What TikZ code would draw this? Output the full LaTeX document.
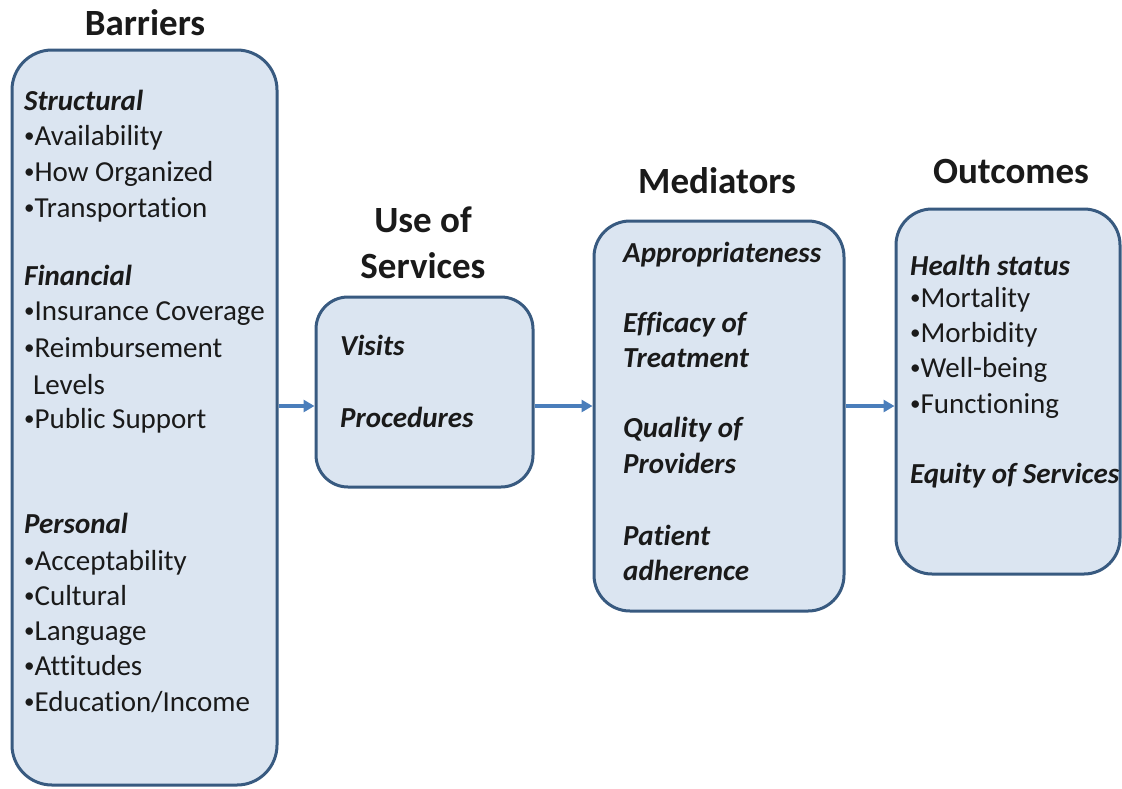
\documentclass[tikz,border=0pt]{standalone}
\usepackage{fontspec}
\setmainfont{Carlito}[Ligatures=CommonOff]
\usetikzlibrary{arrows.meta}
\definecolor{boxfill}{HTML}{DBE5F1}
\definecolor{boxline}{HTML}{385A80}
\definecolor{arrowcol}{HTML}{4A7EBB}
\definecolor{ink}{HTML}{1A1A1A}
\newcommand{\bul}{{\fontsize{21}{21}\selectfont\raisebox{2.5pt}{•}}}
\tikzset{
  panel/.style={draw=boxline, line width=3pt, fill=boxfill, rectangle, inner sep=0pt},
  ttl/.style={font=\fontsize{37}{44}\selectfont\bfseries, text=ink, anchor=base, inner sep=0pt},
  txt/.style={font=\fontsize{29}{35}\selectfont, text=ink, anchor=base west, inner sep=0pt},
  hd/.style={font=\fontsize{29}{35}\selectfont\bfseries\itshape, text=ink, anchor=base west, inner sep=0pt},
  flow/.style={draw=arrowcol, line width=3.4pt, -{Triangle[length=11pt,width=12pt]}}
}
\begin{document}
\begin{tikzpicture}[x=1pt,y=-1pt]
\useasboundingbox (0,0) rectangle (1122,788);
\fill[white] (0,0) rectangle (1122,788);
% boxes
\node[panel, rounded corners=40pt, minimum width=265pt, minimum height=735pt] (bar) at (144.5,417.5) {};
\node[panel, rounded corners=32pt, minimum width=217pt, minimum height=190pt] (uos) at (424.5,392) {};
\node[panel, rounded corners=36pt, minimum width=250pt, minimum height=390pt] (med) at (719,416) {};
\node[panel, rounded corners=36pt, minimum width=224pt, minimum height=365pt] (out) at (1008,391.5) {};
% titles
\node[ttl] (tbar) at (145,35) {Barriers};
\node[ttl] (tuos1) at (423,232) {Use of};
\node[ttl] (tuos2) at (423,278) {Services};
\node[ttl] (tmed) at (717,193) {Mediators};
\node[ttl] (tout) at (1011,183) {Outcomes};
% barriers text
\node[hd]  (b1) at (24,110) {Structural};
\node[txt] (b2) at (24,145) {\bul Availability};
\node[txt] (b3) at (24,181) {\bul How Organized};
\node[txt] (b4) at (24,217) {\bul Transportation};
\node[hd]  (b5) at (24,285) {Financial};
\node[txt] (b6) at (24,320) {\bul Insurance Coverage};
\node[txt] (b7) at (24,357) {\bul Reimbursement};
\node[txt] (b8) at (33,394) {Levels};
\node[txt] (b9) at (24,428) {\bul Public Support};
\node[hd]  (b10) at (24,533) {Personal};
\node[txt] (b11) at (24,570) {\bul Acceptability};
\node[txt] (b12) at (24,605) {\bul Cultural};
\node[txt] (b13) at (24,640) {\bul Language};
\node[txt] (b14) at (24,675) {\bul Attitudes};
\node[txt] (b15) at (24,711) {\bul Education/Income};
% use of services text
\node[hd] (u1) at (340,355) {Visits};
\node[hd] (u2) at (340,427) {Procedures};
% mediators text
\node[hd] (m1) at (623,262) {Appropriateness};
\node[hd] (m2) at (623,332) {Efficacy of};
\node[hd] (m3) at (623,367) {Treatment};
\node[hd] (m4) at (623,437) {Quality of};
\node[hd] (m5) at (623,473) {Providers};
\node[hd] (m6) at (623,545) {Patient};
\node[hd] (m7) at (623,580) {adherence};
% outcomes text
\node[hd]  (o1) at (910,275) {Health status};
\node[txt] (o2) at (910,307) {\bul Mortality};
\node[txt] (o3) at (910,342) {\bul Morbidity};
\node[txt] (o4) at (910,377) {\bul Well-being};
\node[txt] (o5) at (910,413) {\bul Functioning};
\node[hd]  (o6) at (910,483) {Equity of Services};
% arrows
\coordinate (lvl) at (0,406);
\draw[flow] (bar.east |- lvl) -- (uos.west |- lvl);
\draw[flow] (uos.east |- lvl) -- (med.west |- lvl);
\draw[flow] (med.east |- lvl) -- (out.west |- lvl);
\end{tikzpicture}
\end{document}
